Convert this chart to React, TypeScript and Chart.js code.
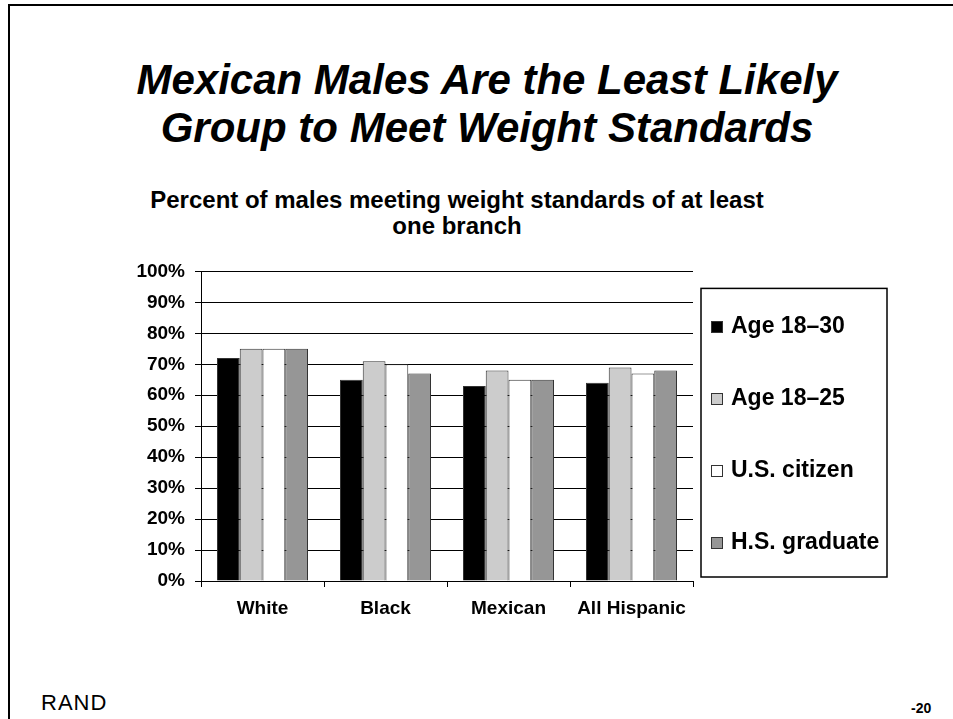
import React, { useEffect, useRef } from "react";
import { Chart, registerables } from "chart.js";

Chart.register(...registerables);

const categories = ["White", "Black", "Mexican", "All Hispanic"];
const seriesLabels = ["Age 18–30", "Age 18–25", "U.S. citizen", "H.S. graduate"];
const age1830 = [72, 65, 63, 64];
const age1825 = [75, 71, 68, 69];
const usCitizen = [75, 70, 65, 67];
const hsGraduate = [75, 67, 65, 68];
const seriesColors = ["#000000", "#cccccc", "#ffffff", "#969696"];
const yTicks = [0, 10, 20, 30, 40, 50, 60, 70, 80, 90, 100];

const FONT = "'Liberation Sans', Arial, Helvetica, sans-serif";

const boxLegend = {
  id: "boxLegend",
  afterDraw(chart: any) {
    const { ctx, chartArea } = chart;
    const left = chartArea.right + 8;
    const top = chartArea.top + 17;
    const w = 186;
    const h = chartArea.bottom - 4 - top;
    ctx.save();
    ctx.lineWidth = 1.5;
    ctx.strokeStyle = "#000";
    ctx.strokeRect(left, top, w, h);
    ctx.font = `bold 23px ${FONT}`;
    ctx.textBaseline = "middle";
    ctx.textAlign = "left";
    chart.data.datasets.forEach((ds: any, i: number) => {
      const cy = Math.round(top + 39 + i * 71.7);
      ctx.fillStyle = ds.backgroundColor;
      ctx.fillRect(left + 10, cy - 6, 12, 12);
      ctx.strokeStyle = "#333";
      ctx.lineWidth = 1;
      ctx.strokeRect(left + 10.5, cy - 5.5, 11, 11);
      ctx.fillStyle = "#000";
      ctx.fillText(ds.label, left + 30, cy);
    });
    ctx.restore();
  },
};

export default function App() {
  const ref = useRef<HTMLCanvasElement | null>(null);

  useEffect(() => {
    if (!ref.current) return;
    const values = [age1830, age1825, usCitizen, hsGraduate];
    const chart = new Chart(ref.current, {
      type: "bar",
      data: {
        labels: categories,
        datasets: values.map((v, i) => ({
          label: seriesLabels[i],
          data: v,
          backgroundColor: seriesColors[i],
          borderColor: "#333333",
          borderWidth: 1,
          barPercentage: 1,
          categoryPercentage: 0.74,
        })),
      },
      options: {
        animation: false,
        responsive: false,
        devicePixelRatio: 1,
        layout: { padding: { top: 17, right: 207, bottom: 0, left: 0 } },
        plugins: {
          legend: { display: false },
          tooltip: { enabled: false },
          title: { display: false },
        },
        scales: {
          x: {
            afterFit: (s: any) => {
              s.height = 49;
            },
            grid: {
              display: true,
              drawOnChartArea: false,
              drawTicks: true,
              tickLength: 6,
              color: "#000",
              offset: true,
            },
            border: { display: true, color: "#000", width: 1 },
            ticks: {
              color: "#000",
              padding: 10,
              font: { family: FONT, size: 19, weight: "bold" },
            },
          },
          y: {
            min: 0,
            max: 100,
            afterFit: (s: any) => {
              s.width = 91;
            },
            afterBuildTicks: (s: any) => {
              s.ticks = yTicks.map((v) => ({ value: v }));
            },
            grid: { color: "#000", lineWidth: 1, tickLength: 6, drawTicks: true },
            border: { display: true, color: "#000", width: 1 },
            ticks: {
              color: "#000",
              padding: 10,
              font: { family: FONT, size: 19, weight: "bold" },
              callback: (v: any) => `${v}%`,
            },
          },
        },
      },
      plugins: [boxLegend],
    });
    return () => chart.destroy();
  }, []);

  return (
    <div
      style={{
        position: "absolute",
        left: 0,
        top: 0,
        width: 953,
        height: 719,
        overflow: "hidden",
        background: "#fff",
        fontFamily: FONT,
        color: "#000",
      }}
    >
      <div
        style={{
          position: "absolute",
          left: 8,
          top: 4,
          width: 1000,
          height: 1000,
          borderTop: "2px solid #000",
          borderLeft: "2px solid #000",
        }}
      />
      <div
        style={{
          position: "absolute",
          left: 487,
          top: 56,
          transform: "translateX(-50%)",
          whiteSpace: "nowrap",
          textAlign: "center",
          fontSize: 42,
          lineHeight: "48px",
          fontWeight: "bold",
          fontStyle: "italic",
        }}
      >
        <div>Mexican Males Are the Least Likely</div>
        <div>Group to Meet Weight Standards</div>
      </div>
      <div
        style={{
          position: "absolute",
          left: 457,
          top: 187,
          transform: "translateX(-50%)",
          whiteSpace: "nowrap",
          textAlign: "center",
          fontSize: 24,
          lineHeight: "26px",
          fontWeight: "bold",
        }}
      >
        <div>Percent of males meeting weight standards of at least</div>
        <div>one branch</div>
      </div>
      <canvas
        ref={ref}
        width={790}
        height={380}
        style={{ position: "absolute", left: 110, top: 250, width: 790, height: 380 }}
      />
      <div
        style={{
          position: "absolute",
          left: 41,
          top: 690,
          fontSize: 22,
          lineHeight: "26px",
          letterSpacing: 1,
        }}
      >
        RAND
      </div>
      <div
        style={{
          position: "absolute",
          left: 911,
          top: 700,
          fontSize: 14,
          lineHeight: "16px",
          fontWeight: "bold",
        }}
      >
        -20
      </div>
    </div>
  );
}
